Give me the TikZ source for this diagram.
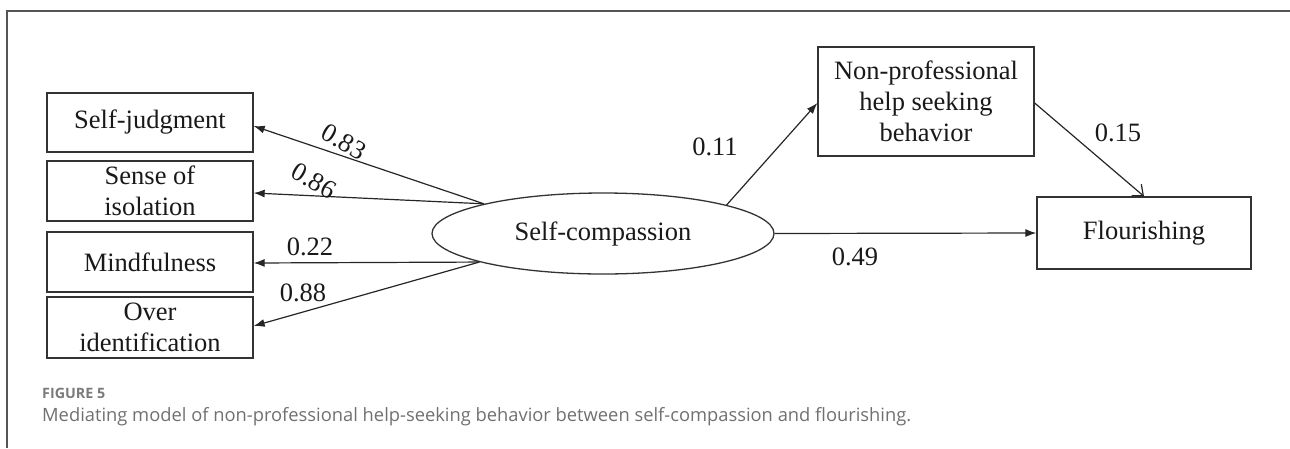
\documentclass[tikz,border=0pt]{standalone}
\usepackage{graphicx}
\usepackage{fontspec}
\setmainfont{Liberation Serif}
\newfontfamily\capfont{Open Sans}
\usetikzlibrary{arrows.meta,shapes.geometric}
\definecolor{framegray}{HTML}{555555}
\definecolor{captext}{HTML}{707070}
\definecolor{caphead}{HTML}{7A7A7A}
\begin{document}
\begin{tikzpicture}[x=1pt,y=-1pt,
  lbl/.style={font=\fontsize{26.5}{31}\selectfont, text=black!90, inner sep=0pt},
  box/.style={lbl, draw=black!80, line width=1.3pt, align=center, rectangle},
  latent/.style={lbl, draw=black!80, line width=1.3pt, ellipse},
  arr/.style={draw=black!85, line width=1.2pt, -{Latex[length=11pt,width=8pt]}},
  openarr/.style={draw=black!85, line width=1.2pt, -{Straight Barb[length=9pt,width=15pt]}},
  coef/.style={lbl}
]
\useasboundingbox (0,0) rectangle (1290,448);

% frame of the figure panel
\draw[framegray, line width=1.4pt] (7,448) -- (7,11) -- (1290,11);

% indicators of self-compassion
\node[box, minimum width=206pt, minimum height=59pt] (sj) at (150,122.5) {Self-judgment};
\node[box, minimum width=206pt, minimum height=60pt] (si) at (150,191) {Sense of\\isolation};
\node[box, minimum width=206pt, minimum height=60pt] (mf) at (150,262) {Mindfulness};
\node[box, minimum width=206pt, minimum height=61pt] (oi) at (150,327.5) {Over\\identification};

% latent variable
\node[latent, minimum width=342pt, minimum height=81pt] (sc) at (603,233.5) {Self-compassion};

% mediator and outcome
\node[box, minimum width=216pt, minimum height=109pt] (np) at (926,101.5) {Non-professional\\help seeking\\behavior};
\node[box, minimum width=214pt, minimum height=72pt] (fl) at (1144,233) {Flourishing};

% loadings
\draw[arr] (sc.166.5) -- ([yshift=-3.5pt]sj.east);
\draw[arr] (sc.166.5) -- ([yshift=-2pt]si.east);
\draw[arr] (sc.193) -- ([yshift=-1pt]mf.east);
\draw[arr] (sc.193) -- ([yshift=1.5pt]oi.east);

% structural paths
\draw[arr] (sc.13.5) -- ([yshift=-1.5pt]np.west);
\draw[arr] (sc.east) -- (fl.west);
\draw[openarr] ([yshift=-1.5pt]np.east) -- (fl.north);

% path coefficients
\node[coef, rotate=-30] (c1) at (344,142) {0.83};
\node[coef, rotate=-30] (c2) at (314,181) {0.86};
\node[coef] (c3) at (310,247) {0.22};
\node[coef] (c4) at (303,293) {0.88};
\node[coef] (c5) at (715,147) {0.11};
\node[coef] (c6) at (855,257) {0.49};
\node[coef] (c7) at (1118,133) {0.15};

% caption
\node[anchor=base west, inner sep=0pt, text=caphead, font=\capfont\bfseries] (fig) at (42,398.5) {\resizebox{63pt}{!}{FIGURE 5}};
\node[anchor=base west, inner sep=0pt, text=captext, font=\capfont] (cap) at (42,421.5) {\resizebox{869pt}{!}{Mediating model of non-professional help-seeking behavior between self-compassion and flourishing.}};
\end{tikzpicture}
\end{document}
